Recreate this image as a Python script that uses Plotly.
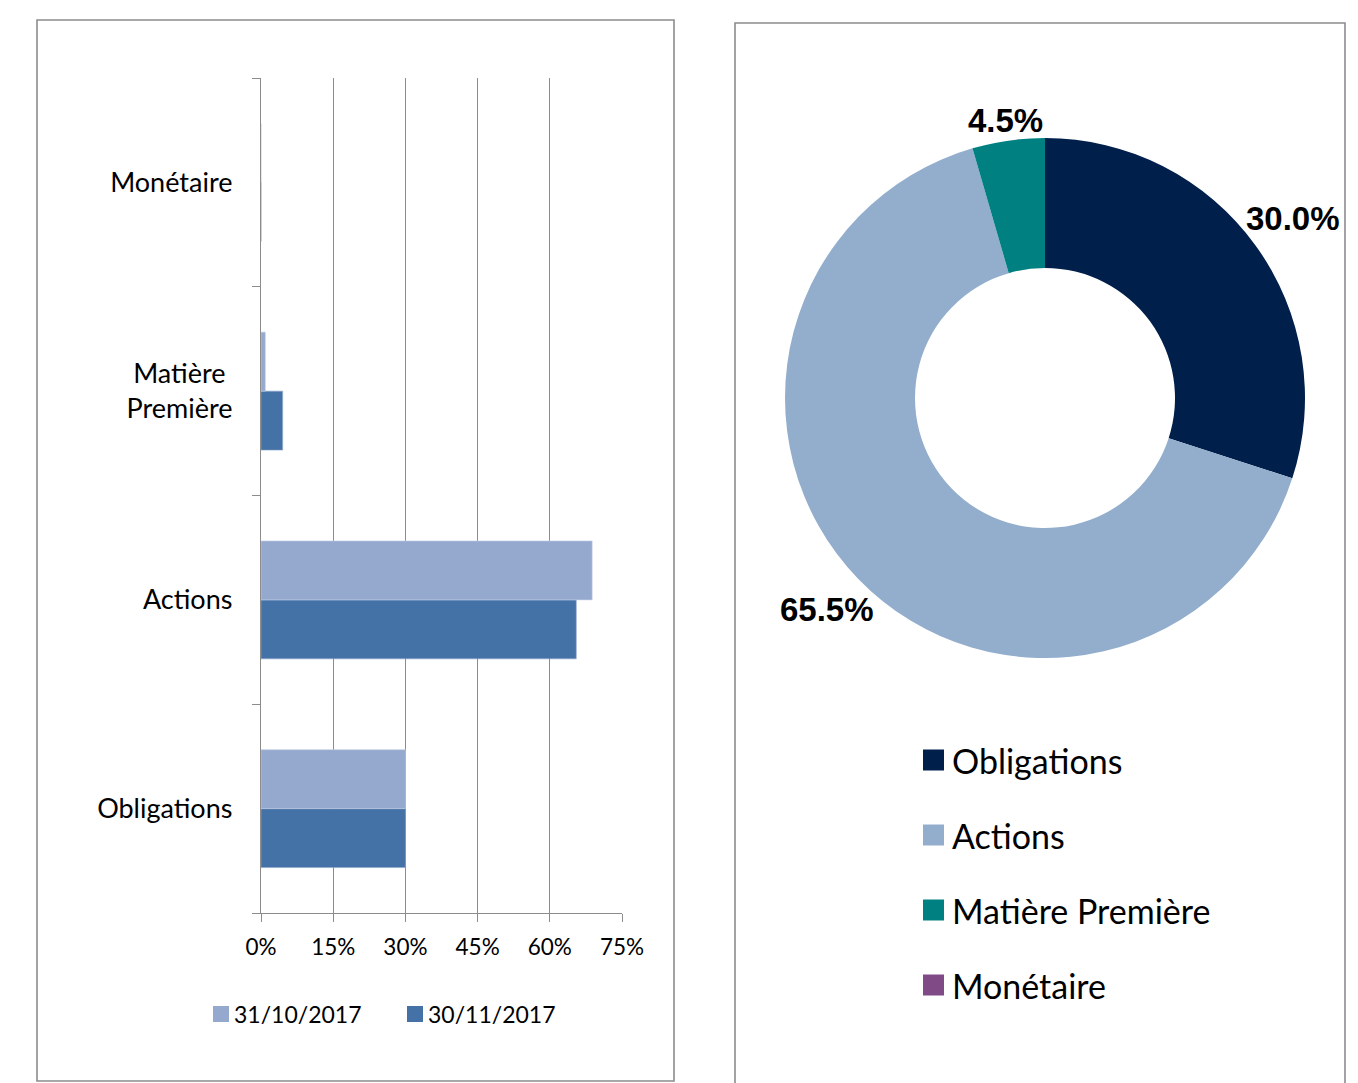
import math
import plotly.graph_objects as go

W, H = 1358, 1083
OFF = 8  # page body margin

# ---- data ----
categories = ["Obligations", "Actions", "Matière Première", "Monétaire"]
category_ticktext = ["Obligations", "Actions", "Matière\u00a0<br>Première", "Monétaire"]
series_names = ["31/10/2017", "30/11/2017"]
values_oct = [0.300, 0.688, 0.009, 0.0]
values_nov = [0.300, 0.655, 0.045, 0.0]
bar_colors = ["#95A9CF", "#4472A6"]
x_ticks = [0, 0.15, 0.30, 0.45, 0.60, 0.75]

pie_labels = ["Obligations", "Actions", "Matière Première", "Monétaire"]
pie_values = [30.0, 65.5, 4.5, 0.0]
pie_colors = ["#001F4B", "#92AECC", "#008080", "#7F4A86"]


def px(x):
    return (x - OFF) / W


def py(y):
    return 1 - (y - OFF) / H


fig = go.Figure()

# bars: second series drawn first so it sits at the bottom of each group
fig.add_trace(go.Bar(
    y=categories, x=values_nov, name=series_names[1], orientation="h",
    marker=dict(color=bar_colors[1], line=dict(color="#8FA8CC", width=0.6)),
    showlegend=False, xaxis="x", yaxis="y", hoverinfo="x+y",
))
fig.add_trace(go.Bar(
    y=categories, x=values_oct, name=series_names[0], orientation="h",
    marker=dict(color=bar_colors[0], line=dict(color="#C5D0E6", width=0.6)),
    showlegend=False, xaxis="x", yaxis="y", hoverinfo="x+y",
))

# donut
PIE_CX, PIE_CY, PIE_R = 1045, 398, 260
fig.add_trace(go.Pie(
    labels=pie_labels, values=pie_values, textinfo="none",
    sort=False, direction="clockwise", rotation=0,
    hole=0.5, marker=dict(colors=pie_colors, line=dict(width=0)),
    domain=dict(x=[px(PIE_CX - PIE_R), px(PIE_CX + PIE_R)],
                y=[py(PIE_CY + PIE_R), py(PIE_CY - PIE_R)]),
    showlegend=False, automargin=False,
))

# outside percentage labels, placed just outside each slice's mid-angle
LAB_FONT = 33
total = sum(pie_values)
cum = 0.0
for v in pie_values:
    mid = (cum + v / 2) / total * 2 * math.pi
    cum += v
    if v <= 0:
        continue
    txt = f"{v:.1f}%"
    tw = 0.56 * LAB_FONT * len(txt)   # approx. text box width
    th = 0.9 * LAB_FONT                # approx. text box height
    s, c = math.sin(mid), math.cos(mid)
    d = PIE_R + abs(s) * tw / 2 + abs(c) * th / 2
    lx = PIE_CX + d * s
    ly = PIE_CY - d * c
    fig.add_annotation(xref="paper", yref="paper", x=px(lx), y=py(ly),
                       text=txt, showarrow=False,
                       xanchor="center", yanchor="middle",
                       font=dict(family="Liberation Sans", size=LAB_FONT, color="#000000",
                                 weight="bold"))

axis_grey = "#8C8C8C"
fig.update_layout(
    width=W, height=H, margin=dict(l=0, r=0, t=0, b=0, autoexpand=False),
    paper_bgcolor="white", plot_bgcolor="white",
    font=dict(family="Lato", color="#000000"),
    barmode="group", bargap=0.435, bargroupgap=0,
    xaxis=dict(
        domain=[px(261), px(622)], range=[0, 0.75], tickvals=x_ticks,
        tickformat=".0%", showgrid=True, gridcolor=axis_grey, gridwidth=1.3,
        showline=True, linecolor=axis_grey, linewidth=1.3,
        ticks="outside", ticklen=8, tickcolor=axis_grey, tickwidth=1.3,
        tickfont=dict(family="Lato", size=22.5), ticklabelstandoff=6,
        zeroline=False, fixedrange=True, automargin=False,
    ),
    yaxis=dict(
        domain=[py(913), py(78)], type="category",
        categoryorder="array", categoryarray=categories,
        tickvals=categories, ticktext=category_ticktext,
        showgrid=False, showline=True, linecolor=axis_grey, linewidth=1.3,
        ticks="outside", ticklen=8, tickcolor=axis_grey, tickwidth=1.3,
        tickson="boundaries", tickfont=dict(family="Lato", size=27),
        ticklabelstandoff=22, zeroline=False, fixedrange=True, automargin=False,
    ),
    showlegend=False,
)

# panel frames
frame = dict(color="#8C8C8C", width=1.6)
fig.add_shape(type="rect", xref="paper", yref="paper",
              x0=px(37), x1=px(674), y0=py(1081), y1=py(20), line=frame)
fig.add_shape(type="rect", xref="paper", yref="paper",
              x0=px(735), x1=px(1345), y0=py(1110), y1=py(23), line=frame)

# bar legend (manual swatches)
bar_leg_x = [213, 407]
for name, col, lx in zip(series_names, bar_colors, bar_leg_x):
    yc = 1014
    fig.add_shape(type="rect", xref="paper", yref="paper",
                  x0=px(lx), x1=px(lx + 16), y0=py(yc + 8), y1=py(yc - 8),
                  fillcolor=col, line=dict(width=0))
    fig.add_annotation(xref="paper", yref="paper", x=px(lx + 19), y=py(yc),
                       text=name, showarrow=False, xanchor="left", yanchor="middle",
                       font=dict(family="Lato", size=23, color="#000000"))

# pie legend (manual, larger swatches)
leg_x, leg_y0, leg_dy, sw = 923, 760, 75, 21
for i, (lab, col) in enumerate(zip(pie_labels, pie_colors)):
    yc = leg_y0 + i * leg_dy
    fig.add_shape(type="rect", xref="paper", yref="paper",
                  x0=px(leg_x), x1=px(leg_x + sw), y0=py(yc + sw / 2), y1=py(yc - sw / 2),
                  fillcolor=col, line=dict(width=0))
    fig.add_annotation(xref="paper", yref="paper", x=px(leg_x + sw + 6), y=py(yc),
                       text=lab, showarrow=False, xanchor="left", yanchor="middle",
                       font=dict(family="Lato", size=34, color="#000000"))

fig.write_html("out.html")
